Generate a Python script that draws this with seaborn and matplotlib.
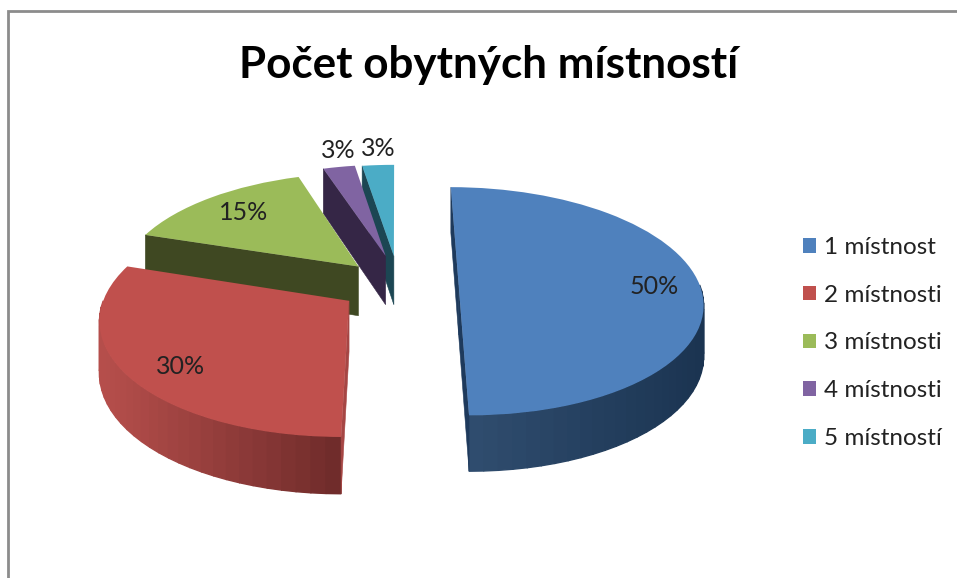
import numpy as np
import matplotlib
matplotlib.use('Agg')
import matplotlib.pyplot as plt
import matplotlib.transforms as mtransforms
from matplotlib.colors import to_rgb
from matplotlib.patches import Patch
import seaborn as sns

title = 'Počet obytných místností'
categories = ['1 místnost', '2 místnosti', '3 místnosti', '4 místnosti', '5 místností']
shares = [50, 30, 15, 2.5, 2.5]
share_labels = ['50%', '30%', '15%', '3%', '3%']

# look of the slices
top_colors = ['#4F81BD', '#C0504D', '#9BBB59', '#8064A2', '#4BACC6']
cut_colors = ['#1E3A5C', '#A64644', '#3F4822', '#352646', '#1C4653']
wall_left = ['#2F4C6E', '#B54E4B', '#3F4822', '#352646', '#1C4653']
wall_right = ['#1B3451', '#6C2A29', '#3F4822', '#352646', '#1C4653']
explode = [0.26, 0.236, 0.24, 0.278, 0.27]
nudge_x = [0, 0, 0.01, 0.02, 0.012]
label_xy = [(654, 286), (181, 366), (244, 212), (338, 150), (378, 148)]

# perspective of the pie plane, in pixels
CX, HORIZON, W0, K, RX = 396, -500, 785, 0.1424, 241


def project(x, y):
    s = 1 / (1 + K * np.asarray(y))
    return CX + RX * np.asarray(x) * s, HORIZON + W0 * s


def drop(y):
    # how far the pie edge hangs below the top face
    s = 1 / (1 + K * np.asarray(y))
    return 49 + 35 * (s - 0.97)


class Tilt(mtransforms.Transform):
    input_dims = 2
    output_dims = 2
    is_separable = False

    def transform_non_affine(self, values):
        px, py = project(values[:, 0], values[:, 1])
        return np.column_stack([px, py])


sns.set_theme(style='white')
plt.rcParams['font.family'] = ['Lato', 'DejaVu Sans']

fig = plt.figure(figsize=(9.57, 5.78), dpi=100, facecolor='white')
ax = fig.add_axes([0, 0, 1, 1])

wedges, _ = ax.pie(shares, explode=explode, colors=top_colors, startangle=90,
                   counterclock=False, wedgeprops={'linewidth': 0})
ax.set_aspect('auto')

# walls go first, back slices first so the front ones cover them
for i in [4, 3, 2, 1, 0]:
    w = wedges[i]
    w.set_center((w.center[0] + nudge_x[i], w.center[1]))
    cx, cy = w.center
    n_steps = max(2, int((w.theta2 - w.theta1) / 3))
    angles = np.radians(np.linspace(w.theta1, w.theta2, n_steps + 1))
    xs = cx + np.cos(angles)
    ys = cy + np.sin(angles)
    px, py = project(xs, ys)
    dd = drop(ys)
    a = np.array(to_rgb(wall_left[i]))
    b = np.array(to_rgb(wall_right[i]))
    for j in range(len(angles) - 1):
        # only the front of the rim can be seen
        if np.sin(angles[j]) > 0.05 or np.sin(angles[j + 1]) > 0.05:
            continue
        if i == 0:
            t = np.clip((px[j] - 470) / 230, 0, 1)
        else:
            t = np.clip((px[j] - 105) / 235, 0, 1)
        col = a + (b - a) * t
        ax.fill([px[j], px[j + 1], px[j + 1], px[j]],
                [py[j], py[j + 1], py[j + 1] + dd[j + 1], py[j] + dd[j]],
                color=col, lw=1.0, zorder=i * -3 + 20)
    # straight cut faces, the blue slice shows both halves of its edge
    for k in ([0, -1] if i == 0 else [-1]):
        ex, ey = project([cx, xs[k]], [cy, ys[k]])
        ed = drop([cy, ys[k]])
        ax.fill([ex[0], ex[1], ex[1], ex[0]],
                [ey[0], ey[1], ey[1] + ed[1], ey[0] + ed[0]],
                color=cut_colors[i], lw=0.4, zorder=i * -3 + 21)
    w.set_transform(Tilt() + ax.transData)
    w.set_zorder(i * -3 + 22)

for (lx, ly), lab in zip(label_xy, share_labels):
    ax.text(lx, ly, lab, fontsize=18, color='#222222', ha='center', va='center', zorder=40)

ax.text(489, 65, title, fontsize=31.7, fontweight='bold', color='black',
        ha='center', va='center', zorder=40)

handles = [Patch(facecolor=c, edgecolor='none') for c in top_colors]
ax.legend(handles, categories, loc='upper left', bbox_to_anchor=(0.839, 0.590),
          frameon=False, fontsize=17.5, handlelength=0.55, handleheight=0.55,
          handletextpad=0.33, labelspacing=1.1, borderpad=0, borderaxespad=0,
          labelcolor='#222222')

# chart frame, cut off by the edge of the screenshot
ax.plot([8, 8, 957], [578, 11, 11], color='#8C8C8C', lw=2, solid_joinstyle='miter', zorder=50)

ax.set_xlim(0, 957)
ax.set_ylim(578, 0)
ax.axis('off')

fig.savefig('out.png', dpi=100, facecolor='white')
